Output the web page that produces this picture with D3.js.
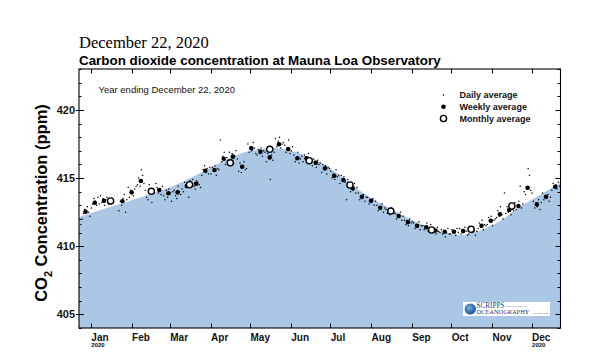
<!DOCTYPE html>
<html><head><meta charset="utf-8">
<script src="https://cdn.jsdelivr.net/npm/d3@7"></script>
<style>body{margin:0;background:#fff}svg{display:block}</style>
</head><body><svg id="c" width="600" height="360"></svg>
<script>
// ---------------- data ----------------
const dateTitle = "December 22, 2020";
const chartTitle = "Carbon dioxide concentration at Mauna Loa Observatory";
const subTitle = "Year ending December 22, 2020";
const yTicks = [405, 410, 415, 420];
const monthTicks = ["2020-01-01","2020-02-01","2020-03-01","2020-04-01","2020-05-01","2020-06-01","2020-07-01","2020-08-01","2020-09-01","2020-10-01","2020-11-01","2020-12-01"];
const yearLabelMonths = ["2020-01-01","2020-12-01"];
const legendLabels = ["Daily average","Weekly average","Monthly average"];

// smooth seasonal reference (blue area top)
const refDates = ["2019-12-23","2020-01-15","2020-02-08","2020-03-01","2020-03-25","2020-04-15","2020-05-01","2020-05-20","2020-06-08","2020-06-24","2020-07-10","2020-07-26","2020-08-16","2020-09-06","2020-09-26","2020-10-08","2020-10-24","2020-11-08","2020-11-22","2020-12-08","2020-12-23"];
const refValues = [412.15,412.85,413.6,414.3,415.4,416.45,417.0,417.2,416.8,416.1,415.1,413.9,412.75,411.7,411.0,410.8,411.2,411.9,412.9,413.8,414.65];

// monthly averages
const monthlyDates = ["2020-01-16","2020-02-16","2020-03-16","2020-04-16","2020-05-16","2020-06-15","2020-07-16","2020-08-16","2020-09-16","2020-10-16","2020-11-16"];
const monthlyValues = [413.32,414.03,414.51,416.12,417.11,416.27,414.49,412.58,411.19,411.24,412.95];

// weekly averages
const weeklyDates = ["2019-12-28","2020-01-04","2020-01-11","2020-01-25","2020-02-01","2020-02-08","2020-02-22","2020-02-29","2020-03-07","2020-03-14","2020-03-21","2020-03-28","2020-04-04","2020-04-11","2020-04-18","2020-04-25","2020-05-02","2020-05-09","2020-05-16","2020-05-23","2020-05-30","2020-06-06","2020-06-13","2020-06-20","2020-06-27","2020-07-04","2020-07-11","2020-07-18","2020-07-25","2020-08-01","2020-08-08","2020-08-15","2020-08-22","2020-08-29","2020-09-05","2020-09-12","2020-09-19","2020-09-26","2020-10-03","2020-10-10","2020-10-17","2020-10-24","2020-10-31","2020-11-07","2020-11-14","2020-11-21","2020-11-28","2020-12-05","2020-12-12","2020-12-19"];
const weeklyValues = [412.53,413.19,413.34,413.30,413.95,414.78,414.12,413.88,413.95,414.42,414.58,415.54,415.59,416.42,416.57,415.83,417.18,416.93,416.52,417.48,417.13,416.45,416.45,416.12,415.71,415.17,414.86,414.25,413.63,413.34,412.82,412.55,412.22,411.77,411.50,411.39,411.15,411.06,411.06,411.11,411.14,411.50,411.87,412.34,412.66,412.95,414.29,413.07,413.63,414.36];

// daily averages, one per day starting 2019-12-23 (null = no data)
const dailyStart = "2019-12-23";
const dailyValues = [
  null,411.6,
  412.0,412.4,412.7,412.6,412.9,412.5,412.2,
  412.8,413.1,413.5,413.3,413.0,413.6,413.1,
  413.7,413.2,413.5,413.0,413.4,413.6,413.1,
  null,null,null,null,null,null,null,
  412.6,413.3,413.0,413.5,413.8,412.5,413.4,
  414.3,413.6,414.1,413.9,413.7,414.2,414.4,
  414.5,415.0,414.4,415.6,415.2,414.6,414.1,
  413.6,413.4,414.5,null,413.2,414.0,null,
  414.6,414.3,413.9,414.2,413.8,414.4,413.7,
  413.4,414.1,413.6,414.2,413.9,413.3,414.0,
  414.1,413.7,413.5,414.4,414.0,413.8,414.2,
  414.0,414.7,414.3,414.5,413.6,414.8,414.6,
  414.9,414.4,414.2,414.8,414.7,414.5,414.3,
  415.2,415.6,415.9,415.4,415.7,415.3,415.8,
  415.3,415.8,415.5,415.9,415.2,415.7,415.6,
  417.8,416.2,416.6,416.9,416.0,416.5,416.3,
  416.9,416.3,416.8,416.1,416.6,417.0,416.4,
  415.5,416.1,415.4,415.9,416.2,415.6,415.7,
  417.5,416.9,417.3,417.0,417.6,417.2,416.8,
  416.7,417.1,416.8,417.2,416.6,417.0,416.9,
  416.2,416.8,416.4,414.9,416.7,416.3,416.9,
  417.9,417.3,417.7,418.0,417.2,417.5,417.6,
  417.4,416.9,417.2,417.8,416.8,417.0,417.3,
  416.7,416.2,416.5,416.9,416.1,416.4,416.6,
  416.2,416.7,416.5,416.3,416.8,416.4,416.1,
  415.9,416.4,416.2,415.8,416.3,416.0,416.1,
  415.4,416.0,415.6,415.9,415.3,415.8,415.7,
  415.5,415.0,415.3,414.9,415.6,415.1,415.2,
  414.6,415.2,414.9,415.1,414.7,413.4,414.9,
  414.5,414.0,414.4,414.1,414.6,413.9,414.3,
  413.9,413.4,413.7,413.5,413.8,413.3,413.6,
  413.6,413.1,413.4,413.2,413.5,413.0,413.3,
  413.0,412.6,412.9,412.7,413.1,412.5,412.8,
  412.7,412.4,412.6,412.3,412.8,412.5,412.4,
  412.4,412.0,412.3,412.1,412.5,411.9,412.2,
  411.9,411.6,411.8,411.5,412.0,411.7,411.8,
  411.7,411.3,411.6,411.4,411.8,411.2,411.5,
  411.5,411.2,411.4,411.7,411.1,411.3,411.6,
  411.3,411.0,411.2,410.9,411.4,411.1,411.0,
  411.2,410.9,411.1,410.7,411.0,411.3,410.9,
  410.9,411.2,411.0,411.1,410.8,411.3,411.0,
  411.3,410.9,411.2,411.0,411.4,411.1,410.8,
  410.9,411.3,411.0,411.4,411.2,410.8,411.1,
  411.3,411.7,411.4,411.9,411.2,411.6,411.5,
  411.6,412.1,411.8,412.2,411.5,411.9,412.0,
  412.1,412.6,412.2,412.9,412.3,412.0,413.9,
  412.4,412.9,412.5,412.8,412.3,412.7,412.6,
  413.2,412.7,413.0,413.3,414.4,412.8,413.1,
  414.0,413.8,414.3,415.7,415.2,414.1,413.9,
  413.3,412.8,413.1,412.9,413.4,412.7,413.2,
  413.9,413.4,413.7,413.5,413.8,413.3,413.6,
  414.1,414.6,414.3,414.5,414.2,414.7,414.4
];

// ---------------- drawing ----------------
const svg = d3.select("#c");
const X0 = 79, X1 = 560.5, Y0 = 69, Y1 = 328;
const parse = d3.utcParse("%Y-%m-%d");
const x = d3.scaleUtc().domain([parse("2019-12-23"), parse("2020-12-23")]).range([X0, X1]);
const y = d3.scaleLinear().domain([404, 423]).range([Y1, Y0]);
const SANS = "'Liberation Sans', Arial, Helvetica, sans-serif";
const SERIF = "'Liberation Serif', 'Times New Roman', serif";

svg.append("defs").append("clipPath").attr("id","plot")
  .append("rect").attr("x",X0).attr("y",Y0).attr("width",X1-X0).attr("height",Y1-Y0);

const ref = refDates.map((d,i)=>({date:parse(d), v:refValues[i]}));
svg.append("path").datum(ref)
  .attr("clip-path","url(#plot)")
  .attr("fill","#aac8e6")
  .attr("d", d3.area().x(d=>x(d.date)).y0(Y1).y1(d=>y(d.v)).curve(d3.curveMonotoneX));

// logo
const logo = svg.append("g");
logo.append("rect").attr("x",463).attr("y",302).attr("width",87).attr("height",14).attr("fill","#fff");
const grad = svg.select("defs").append("radialGradient").attr("id","globe").attr("cx","40%").attr("cy","40%").attr("r","60%");
grad.append("stop").attr("offset","0%").attr("stop-color","#6fb3e6");
grad.append("stop").attr("offset","100%").attr("stop-color","#1d4f98");
logo.append("circle").attr("cx",470.3).attr("cy",309).attr("r",5.6).attr("fill","url(#globe)");
logo.append("text").attr("x",476.5).attr("y",307.6).attr("font-family",SERIF).attr("font-size",7.2).attr("fill","#1f3c78").text("SCRIPPS");
logo.append("text").attr("x",505.5).attr("y",306.8).attr("font-family",SERIF).attr("font-size",2.8).attr("fill","#1f3c78").text("INSTITUTION OF");
logo.append("text").attr("x",476.5).attr("y",314.4).attr("font-family",SERIF).attr("font-size",6.4).attr("fill","#1f3c78").text("OCEANOGRAPHY");
logo.append("text").attr("x",533).attr("y",314.2).attr("font-family",SERIF).attr("font-size",2.6).attr("fill","#1f3c78").text("UC San Diego");

// daily points
const start = parse(dailyStart);
const daily = dailyValues.map((v,i)=>({date:d3.utcDay.offset(start,i), v})).filter(d=>d.v!==null);
svg.append("g").attr("clip-path","url(#plot)").selectAll("circle").data(daily).join("circle")
  .attr("cx",d=>x(d.date)+0.5).attr("cy",d=>y(d.v)).attr("r",0.75).attr("fill","#000");

// weekly points
const weekly = weeklyDates.map((d,i)=>({date:parse(d), v:weeklyValues[i]}));
svg.append("g").selectAll("circle").data(weekly).join("circle")
  .attr("cx",d=>x(d.date)).attr("cy",d=>y(d.v)).attr("r",2.3).attr("fill","#000");

// monthly points
const monthly = monthlyDates.map((d,i)=>({date:parse(d), v:monthlyValues[i]}));
svg.append("g").selectAll("circle").data(monthly).join("circle")
  .attr("cx",d=>x(d.date)).attr("cy",d=>y(d.v)).attr("r",3.1)
  .attr("fill","#fff").attr("stroke","#000").attr("stroke-width",1.4);

// frame
svg.append("rect").attr("x",X0).attr("y",Y0).attr("width",X1-X0).attr("height",Y1-Y0)
  .attr("fill","none").attr("stroke","#000").attr("stroke-width",1.1);

// y ticks (left & right)
const allY = d3.range(404, 424);
const tg = svg.append("g").attr("stroke","#000").attr("stroke-width",1);
allY.forEach(v=>{
  const major = yTicks.includes(v);
  const yy = Math.round(y(v))+0.5;
  tg.append("line").attr("x1", major ? X0-3 : X0).attr("x2", major ? X0+5 : X0+2.5).attr("y1",yy).attr("y2",yy);
  tg.append("line").attr("x1", X1).attr("x2", major ? X1-5 : X1-3).attr("y1",yy).attr("y2",yy);
});
svg.append("g").selectAll("text").data(yTicks).join("text")
  .attr("x",75).attr("y",d=>y(d)+4).attr("text-anchor","end")
  .attr("font-family",SANS).attr("font-size",11).attr("font-weight","bold").attr("fill","#111").text(d=>d);

// month ticks top & bottom
monthTicks.forEach(m=>{
  const xx = Math.round(x(parse(m)))+0.5;
  tg.append("line").attr("x1",xx).attr("x2",xx).attr("y1",Y1).attr("y2",Y1-4.5);
  tg.append("line").attr("x1",xx).attr("x2",xx).attr("y1",Y0).attr("y2",Y0+4.5);
});
svg.append("g").selectAll("text").data(monthTicks).join("text")
  .attr("x",d=>x(parse(d))+0.5).attr("y",340.5)
  .attr("font-family",SANS).attr("font-size",10).attr("font-weight","bold").attr("fill","#111")
  .text(d=>d3.utcFormat("%b")(parse(d)));
svg.append("g").selectAll("text").data(yearLabelMonths).join("text")
  .attr("x",d=>x(parse(d))+0.5).attr("y",346.5)
  .attr("font-family",SANS).attr("font-size",6).attr("font-weight","bold").attr("fill","#111")
  .text(d=>d3.utcFormat("%Y")(parse(d)));

// titles
svg.append("text").attr("x",79).attr("y",48).attr("font-family",SERIF).attr("font-size",16.5).attr("fill","#000").text(dateTitle);
svg.append("text").attr("x",79).attr("y",64.5).attr("font-family",SANS).attr("font-size",13.4).attr("font-weight","bold").attr("fill","#000").text(chartTitle);
svg.append("text").attr("x",98.5).attr("y",92.5).attr("font-family",SANS).attr("font-size",9.5).attr("fill","#111").text(subTitle);

// y-axis title
const yt = svg.append("text").attr("transform","translate(47,203) rotate(-90)").attr("text-anchor","middle")
  .attr("font-family",SANS).attr("font-size",16.5).attr("font-weight","bold").attr("fill","#000");
yt.append("tspan").text("CO");
yt.append("tspan").attr("font-size",11).attr("dy",5).text("2");
yt.append("tspan").attr("dy",-5).text(" Concentration (ppm)");

// legend
const lg = svg.append("g");
const lx = 443.5, ly = [95, 106.7, 118.5];
lg.append("circle").attr("cx",lx).attr("cy",ly[0]).attr("r",0.8).attr("fill","#000");
lg.append("circle").attr("cx",lx).attr("cy",ly[1]).attr("r",2.3).attr("fill","#000");
lg.append("circle").attr("cx",lx).attr("cy",ly[2]).attr("r",3.1).attr("fill","#fff").attr("stroke","#000").attr("stroke-width",1.4);
lg.selectAll("text").data(legendLabels).join("text")
  .attr("x",459.5).attr("y",(d,i)=>ly[i]+3.3)
  .attr("font-family",SANS).attr("font-size",9).attr("font-weight","bold").attr("fill","#111").text(d=>d);
</script>
</body></html>
